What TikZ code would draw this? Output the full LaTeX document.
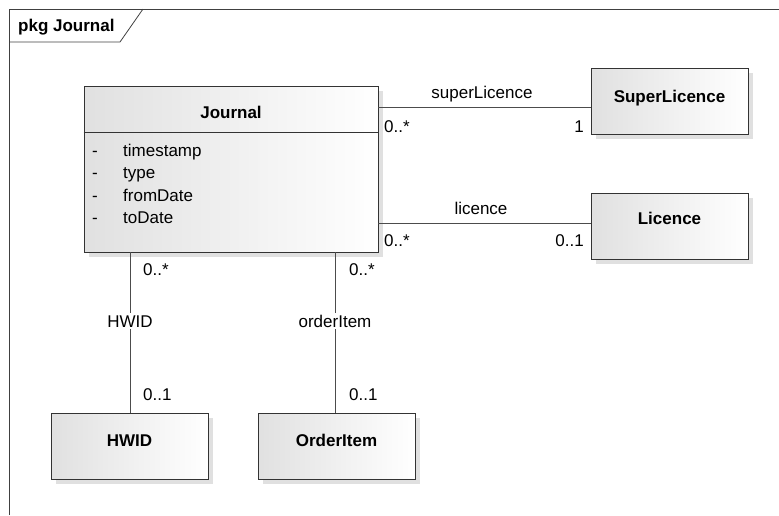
\documentclass[tikz,border=0pt]{standalone}
\usepackage{fontspec}
\setmainfont{Liberation Sans}
\usetikzlibrary{shadows}
\begin{document}
\begin{tikzpicture}[x=1pt,y=-1pt,
  font=\fontsize{17}{20}\selectfont,
  classbox/.style={draw=black!80, line width=0.9pt, left color=black!12, right color=white,
    drop shadow={shadow xshift=5pt, shadow yshift=-5pt, fill=black!12, opacity=1},
    minimum width=157pt, minimum height=66pt, inner sep=0pt},
  cname/.style={anchor=base, inner sep=0pt, font=\fontsize{17}{20}\selectfont\bfseries},
  assoc/.style={draw=black!70, line width=0.8pt},
  lbl/.style={anchor=base, inner sep=0pt, text=black},
  lblw/.style={anchor=base, inner sep=2pt, fill=white, text=black}]
\useasboundingbox (0,0) rectangle (779,515);
% package frame and tab
\draw[black!75, line width=0.8pt] (9,515) -- (9,9) -- (779,9);
\coordinate (tabA) at (9,42);
\coordinate (tabB) at (120,42);
\coordinate (tabC) at (143,9);
\draw[black!75, line width=0.8pt] (tabA) -- (tabB) -- (tabC);
\node[anchor=base west, inner sep=0pt, font=\fontsize{17}{20}\selectfont\bfseries] (pkg) at (18,31) {pkg Journal};

% classes
\node[classbox, minimum width=294pt, minimum height=166pt] (journal) at (231,169) {};
\node[cname] (jname) at (231,118) {Journal};
\draw[black!80, line width=0.9pt] (journal.west |- 0,132) coordinate (sepL) -- (journal.east |- 0,132) coordinate (sepR);
\foreach \a/\yy [count=\i] in {timestamp/156, type/178.5, fromDate/201, toDate/223}{
  \node[anchor=base west, inner sep=0pt] (vis\i) at (92,\yy) {-};
  \node[anchor=base west, inner sep=0pt] (attr\i) at (123,\yy) {\a};
}

\node[classbox] (super) at (669.5,101) {};
\node[cname] (supername) at (669.5,102) {SuperLicence};
\node[classbox] (licence) at (669.5,226) {};
\node[cname] (licname) at (669.5,224) {Licence};
\node[classbox] (hwid) at (129.5,446) {};
\node[cname] (hwidname) at (129.5,446) {HWID};
\node[classbox] (order) at (336.5,446) {};
\node[cname] (ordername) at (336.5,446) {OrderItem};

% associations
\draw[assoc] (journal.east |- 0,107) -- (super.west |- 0,107);
\node[lbl] (l1) at (482,98) {superLicence};
\node[lbl, anchor=base west] (l1a) at (384,132) {0..*};
\node[lbl, anchor=base east] (l1b) at (584,132) {1};

\draw[assoc] (journal.east |- 0,223) -- (licence.west |- 0,223);
\node[lbl] (l2) at (481,214) {licence};
\node[lbl, anchor=base west] (l2a) at (384,246) {0..*};
\node[lbl, anchor=base east] (l2b) at (584,246) {0..1};

\draw[assoc] (journal.south -| 130,0) -- (hwid.north -| 130,0);
\node[lblw] (l3) at (130,327) {HWID};
\node[lbl, anchor=base west] (l3a) at (143,275) {0..*};
\node[lbl, anchor=base west] (l3b) at (143,400) {0..1};

\draw[assoc] (journal.south -| 335,0) -- (order.north -| 335,0);
\node[lblw] (l4) at (335,327) {orderItem};
\node[lbl, anchor=base west] (l4a) at (349,275) {0..*};
\node[lbl, anchor=base west] (l4b) at (349,400) {0..1};
\end{tikzpicture}
\end{document}
